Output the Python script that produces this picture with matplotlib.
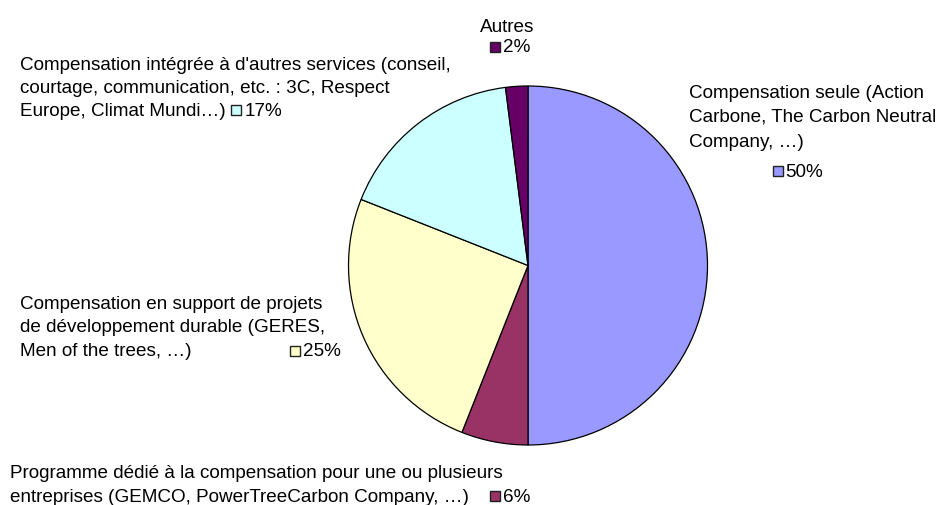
import matplotlib
matplotlib.use("Agg")
import matplotlib.pyplot as plt
from matplotlib.lines import Line2D

plt.rcParams['font.family'] = ['Liberation Sans', 'DejaVu Sans']

categories = [
    ["Compensation seule (Action", "Carbone, The Carbon Neutral", "Company, …)"],
    ["Programme dédié à la compensation pour une ou plusieurs",
     "entreprises (GEMCO, PowerTreeCarbon Company, …)"],
    ["Compensation en support de projets", "de développement durable (GERES,",
     "Men of the trees, …)"],
    ["Compensation intégrée à d'autres services (conseil,",
     "courtage, communication, etc. : 3C, Respect", "Europe, Climat Mundi…)"],
    ["Autres"],
]
values = [50, 6, 25, 17, 2]
colors = ["#9999FF", "#993366", "#FFFFCC", "#CCFFFF", "#660066"]

W, H = 941, 506
fig = plt.figure(figsize=(W / 100, H / 100), dpi=100)
fig.patch.set_facecolor("white")

cx, cy, r = 528, 266.5, 179.5
ax = fig.add_axes([(cx - r) / W, (H - cy - r) / H, 2 * r / W, 2 * r / H])
ax.pie(values, colors=colors, startangle=90, counterclock=False,
       wedgeprops=dict(edgecolor="black", linewidth=0.9), radius=1)
ax.set_xlim(-1.0, 1.0)
ax.set_ylim(-1.0, 1.0)
ax.set_aspect("equal")
ax.axis("off")

FS = 13.6


def px(x, y):
    return x / W, (H - y) / H


def label(idx, x, baselines, sq, txt_x, txt_base, ha="left"):
    for line, b in zip(categories[idx], baselines):
        fx, fy = px(x, b)
        fig.text(fx, fy, line, fontsize=FS, ha=ha, va="baseline", color="black")
    fx, fy = px(*sq)
    fig.add_artist(Line2D([fx], [fy], marker="s", markersize=6.9,
                          markerfacecolor=colors[idx], markeredgecolor="#222222",
                          markeredgewidth=1.0, transform=fig.transFigure))
    tx, ty = px(txt_x, txt_base)
    fig.text(tx, ty, f"{values[idx]}%", fontsize=FS, ha="left", va="baseline", color="black")


# Compensation seule
label(0, 689, [98, 122, 147], (778, 172), 785.5, 177)
# Programme
label(1, 10, [478, 502], (494.5, 497), 503.5, 502)
# Support
label(2, 20, [309, 332, 356], (295, 352), 303.5, 356)
# Intégrée
label(3, 20, [70, 93, 116], (235.5, 111), 245, 116)
# Autres
label(4, 507.5, [32], (495, 47.5), 503.5, 52, ha="center")

fig.savefig("out.png", dpi=100, facecolor="white")
